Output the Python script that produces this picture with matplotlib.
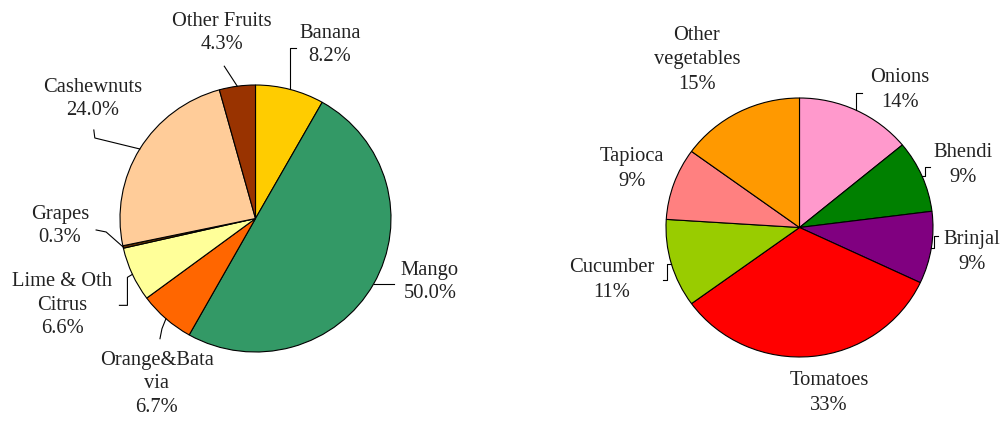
import numpy as np
import matplotlib.pyplot as plt

plt.rcParams['font.family'] = 'Liberation Serif'
plt.rcParams['font.size'] = 14.8

# Fruit crops, clockwise from 12 o'clock
fruit_names = ['Banana', 'Mango', 'Orange&Bata\nvia', 'Lime & Oth\nCitrus',
               'Grapes', 'Cashewnuts', 'Other Fruits']
fruit_share = [8.2, 50.0, 6.7, 6.6, 0.3, 24.0, 4.3]
fruit_colors = ['#FFCC00', '#339966', '#FF6600', '#FFFF99',
                '#663300', '#FFCC99', '#993300']

# Vegetable crops, clockwise from 12 o'clock
veg_names = ['Onions', 'Bhendi', 'Brinjal', 'Tomatoes', 'Cucumber',
             'Tapioca', 'Other\nvegetables']
veg_share = [14, 9, 9, 33, 11, 9, 15]
veg_colors = ['#FF99CC', '#008000', '#800080', '#FF0000', '#99CC00',
              '#FF8080', '#FF9900']

W, H = 1008, 421

# pie box in pixels: centre x, centre y, x radius, y radius
fruit_box = (255.5, 218.5, 135.5, 133.5)
veg_box = (799.5, 227.5, 133.5, 129.5)

# label centres (pixels) and leader-line steps from the wedge edge
fruit_label_pos = [(330, 45), (430, 282), (157, 384), (62, 305),
                   (60, 226), (93, 99), (222, 33)]
fruit_leaders = [[(0, -41), (6, 0)], [(20, 0)], [(-4, 10), (-2, 10)],
                 [(-5, 3), (0, 28), (-8, 0)], [(-17, -15), (-10, -2)],
                 [(-45, -11), (-1, -8)], [(-13, -20)]]

veg_label_pos = [(900, 90), (963, 165), (972, 252), (829, 393),
                 (612, 280), (632, 169), (697, 60)]
veg_leaders = [[(0, -17), (6, 0)], [(3, 0), (0, -9), (5, 0)],
               [(3, 0), (0, -12), (4, 0)], [], [(-4, 0), (0, 16), (-4, 0)],
               [], []]


def draw_pie(fig, box, values, names, colors, label_pos, leaders, fmt, spacing):
    cx, cy, rx, ry = box
    ax = fig.add_axes([(cx - rx) / W, (H - cy - ry) / H, 2 * rx / W, 2 * ry / H])
    wedges, _ = ax.pie(values, colors=colors, startangle=90, counterclock=False,
                       radius=1.0,
                       wedgeprops=dict(edgecolor='black', linewidth=0.8))
    ax.set_xlim(-1, 1)
    ax.set_ylim(-1, 1)
    ax.set_aspect('auto')
    ax.axis('off')

    def to_data(px, py):
        return (px - cx) / rx, (cy - py) / ry

    for w, name, v, (tx, ty), steps in zip(wedges, names, values,
                                             label_pos, leaders):
        # leader starts on the rim at the middle of the wedge
        mid = np.deg2rad((w.theta1 + w.theta2) / 2)
        px, py = cx + rx * np.cos(mid), cy - ry * np.sin(mid)
        xs, ys = [px], [py]
        for dx, dy in steps:
            px, py = px + dx, py + dy
            xs.append(px)
            ys.append(py)
        if steps:
            pts = [to_data(x, y) for x, y in zip(xs, ys)]
            ax.plot([p[0] for p in pts], [p[1] for p in pts], color='black',
                    linewidth=0.8, clip_on=False)
        lx, ly = to_data(tx, ty)
        ax.text(lx, ly, name + '\n' + fmt.format(v), ha='center', va='center',
                multialignment='center', linespacing=spacing, color='#222222')
    return ax


fig = plt.figure(figsize=(W / 100, H / 100), dpi=100)
draw_pie(fig, fruit_box, fruit_share, fruit_names, fruit_colors,
         fruit_label_pos, fruit_leaders, '{:.1f}%', 1.3)
draw_pie(fig, veg_box, veg_share, veg_names, veg_colors,
         veg_label_pos, veg_leaders, '{:.0f}%', 1.4)

fig.savefig('out.png', dpi=100, facecolor='white')
